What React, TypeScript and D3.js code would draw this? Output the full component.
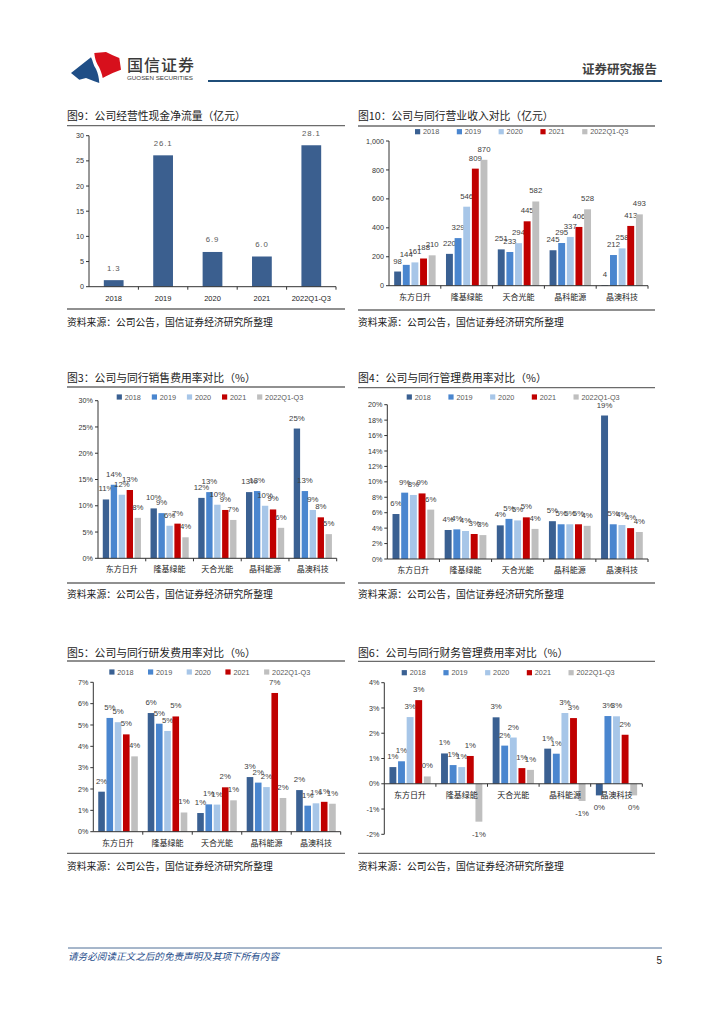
import React from "react";
import * as d3 from "d3";

const FONT_CJK = "'Noto Sans CJK SC', 'Noto Sans', sans-serif";
const FONT_NUM = "'Liberation Sans', Arial, sans-serif";

// ---------- data ----------
const companies = ["东方日升", "隆基绿能", "天合光能", "晶科能源", "晶澳科技"];
const seriesNames = ["2018", "2019", "2020", "2021", "2022Q1-Q3"];
const seriesColors = ["#3a6092", "#4a86cf", "#a7c6e8", "#c00000", "#bfbfbf"];

const cashYears = ["2018", "2019", "2020", "2021", "2022Q1-Q3"];
const cashFlow = [1.3, 26.1, 6.9, 6.0, 28.1];

// rows: companies, columns: series (2018..2022Q1-Q3)
const revenue = [
  [98, 144, 161, 188, 210],
  [220, 329, 546, 809, 870],
  [251, 233, 294, 445, 582],
  [245, 295, 337, 406, 528],
  [4, 212, 258, 413, 493],
];
const salesRate = [
  [11.2, 14.0, 12.1, 13.0, 7.7],
  [9.5, 8.6, 6.2, 6.6, 4.0],
  [11.5, 12.6, 10.2, 9.2, 7.3],
  [12.6, 12.8, 10.0, 9.3, 5.8],
  [24.7, 12.8, 9.2, 7.8, 4.6],
];
const adminRate = [
  [5.83, 8.6, 8.3, 8.5, 6.4],
  [3.76, 3.84, 3.63, 3.24, 3.1],
  [4.36, 5.2, 5.0, 5.4, 3.9],
  [4.9, 4.5, 4.5, 4.5, 4.3],
  [18.6, 4.5, 4.4, 4.0, 3.5],
];
const rdRate = [
  [1.875, 5.33, 5.13, 4.56, 3.53],
  [5.56, 5.06, 4.72, 5.4, 0.9],
  [0.875, 1.28, 1.27, 2.08, 1.47],
  [2.56, 2.3, 2.09, 6.5, 1.58],
  [1.95, 1.22, 1.33, 1.4, 1.31],
];
const financeRate = [
  [0.66, 0.89, 2.64, 3.31, 0.29],
  [1.2, 0.74, 0.66, 1.1, -1.5],
  [2.63, 1.51, 1.83, 0.62, 0.55],
  [1.39, 1.19, 2.8, 2.6, -0.68],
  [-0.46, 2.68, 2.67, 1.94, -0.46],
];

const revenueTicks = [0, 200, 400, 600, 800, 1000];
const salesTicks = [0, 5, 10, 15, 20, 25, 30];
const adminTicks = [0, 2, 4, 6, 8, 10, 12, 14, 16, 18, 20];
const rdTicks = [0, 1, 2, 3, 4, 5, 6, 7];
const financeTicks = [-2, -1, 0, 1, 2, 3, 4];
const cashTicks = [0, 5, 10, 15, 20, 25, 30];

const pct = (v: number) => {
  const r = Math.round(v);
  return (r === 0 ? 0 : r) + "%";
};
const comma = d3.format(",");

// ---------- components ----------
function Frame(props: any) {
  const { x1, x2, titleY, title, ulY, botY, srcY } = props;
  return (
    <g>
      <text x={x1} y={titleY} fontFamily={FONT_CJK} fontSize={10.8} fill="#222">
        {title}
      </text>
      <line x1={x1} x2={x2} y1={ulY} y2={ulY} stroke="#6b6b6b" strokeWidth={1.3} />
      <line x1={x1} x2={x2} y1={botY} y2={botY} stroke="#6b6b6b" strokeWidth={1.3} />
      <text x={x1} y={srcY} fontFamily={FONT_CJK} fontSize={9.8} fill="#222">
        资料来源：公司公告，国信证券经济研究所整理
      </text>
    </g>
  );
}

function Legend(props: any) {
  const { x, step, y } = props;
  return (
    <g>
      {seriesNames.map((s, i) => (
        <g key={s} transform={`translate(${x + i * step},${y})`}>
          <rect x={0} y={-2.6} width={5.2} height={5.2} fill={seriesColors[i]} />
          <text x={8} y={2.6} fontFamily={FONT_NUM} fontSize={7.3} fill="#595959">
            {s}
          </text>
        </g>
      ))}
    </g>
  );
}

function GroupChart(props: any) {
  const { data, left, right, yTop, yBot, domain, ticks, fmtTick, fmtLabel, legend } = props;
  const y = d3.scaleLinear().domain(domain).range([yBot, yTop]);
  const x0 = d3.scaleBand<string>().domain(companies).range([left, right]).paddingInner(0.2).paddingOuter(0.1);
  const x1 = d3
    .scaleBand<string>()
    .domain(seriesNames)
    .range([0, x0.bandwidth()])
    .paddingInner(0.2);
  const zeroY = y(0);
  const step = x0.step();
  return (
    <g>
      <Frame {...props} />
      <Legend {...legend} />
      {data.map((row: number[], ci: number) => (
        <g key={ci}>
          {row.map((v, si) => {
            const bx = (x0(companies[ci]) as number) + (x1(seriesNames[si]) as number);
            const top = Math.min(y(v), zeroY);
            const h = Math.abs(y(v) - zeroY);
            const ly = v >= 0 ? y(v) - 8 : y(v) + 15;
            return (
              <g key={si}>
                <rect x={bx} y={top} width={x1.bandwidth()} height={h} fill={seriesColors[si]} />
                <text
                  x={bx + x1.bandwidth() / 2}
                  y={ly}
                  textAnchor="middle"
                  fontFamily={FONT_NUM}
                  fontSize={7.8}
                  fill="#404040"
                >
                  {fmtLabel(v)}
                </text>
              </g>
            );
          })}
        </g>
      ))}
      {/* y axis */}
      <line x1={left} x2={left} y1={y(domain[0])} y2={y(domain[1])} stroke="#333" strokeWidth={1} />
      {ticks.map((t: number) => (
        <g key={t}>
          <line x1={left - 3} x2={left} y1={y(t)} y2={y(t)} stroke="#333" />
          <text x={left - 5} y={y(t) + 2.6} textAnchor="end" fontFamily={FONT_NUM} fontSize={7.2} fill="#333">
            {fmtTick(t)}
          </text>
        </g>
      ))}
      {/* x axis */}
      <line x1={left} x2={right} y1={zeroY} y2={zeroY} stroke="#333" strokeWidth={1} />
      {companies.map((c, i) => (
        <g key={c}>
          <line
            x1={left + (i + 1) * step}
            x2={left + (i + 1) * step}
            y1={zeroY}
            y2={zeroY + 3}
            stroke="#333"
          />
          <text
            x={(x0(c) as number) + x0.bandwidth() / 2}
            y={zeroY + 14}
            textAnchor="middle"
            fontFamily={FONT_CJK}
            fontSize={8}
            fill="#222"
          >
            {c}
          </text>
        </g>
      ))}
    </g>
  );
}

function CashChart() {
  const left = 89,
    right = 336,
    yTop = 135.7,
    yBot = 286.7;
  const y = d3.scaleLinear().domain([0, 30]).range([yBot, yTop]);
  const x = d3.scaleBand<string>().domain(cashYears).range([left, right]).paddingInner(0.6).paddingOuter(0.3);
  const step = x.step();
  const f = d3.format(".1f");
  return (
    <g>
      <Frame x1={67} x2={345} titleY={120} title="图9：公司经营性现金净流量（亿元）" ulY={125.7} botY={309} srcY={326} />
      {cashFlow.map((v, i) => (
        <g key={i}>
          <rect x={x(cashYears[i])} y={y(v)} width={x.bandwidth()} height={yBot - y(v)} fill="#3b5f8f" />
          <text
            x={(x(cashYears[i]) as number) + x.bandwidth() / 2}
            y={y(v) - 9.5}
            textAnchor="middle"
            fontFamily={FONT_NUM}
            fontSize={7.8}
            letterSpacing={0.9}
            fill="#595959"
          >
            {f(v)}
          </text>
        </g>
      ))}
      <line x1={left} x2={left} y1={yBot} y2={yTop} stroke="#333" />
      {cashTicks.map((t) => (
        <g key={t}>
          <line x1={left - 3} x2={left} y1={y(t)} y2={y(t)} stroke="#333" />
          <text x={left - 5} y={y(t) + 2.6} textAnchor="end" fontFamily={FONT_NUM} fontSize={7.2} fill="#333">
            {t}
          </text>
        </g>
      ))}
      <line x1={left} x2={right} y1={yBot} y2={yBot} stroke="#333" />
      {cashYears.map((c, i) => (
        <g key={c}>
          <line x1={left + (i + 1) * step} x2={left + (i + 1) * step} y1={yBot} y2={yBot + 3} stroke="#333" />
          <text
            x={(x(c) as number) + x.bandwidth() / 2}
            y={yBot + 14}
            textAnchor="middle"
            fontFamily={FONT_NUM}
            fontSize={7.5}
            fill="#222"
          >
            {c}
          </text>
        </g>
      ))}
    </g>
  );
}

function Header() {
  return (
    <g>
      <path
        d="M71,73 L91,57.3 C93,61 93,65 96,69 C98,73 99,78 99.3,83 L94.3,81.3 L86,78 L79.3,79.7 Z"
        fill="#1f4e86"
      />
      <path
        d="M94.3,53 L106,52 L112.7,55.3 L119.3,58 L121,69.7 L112.7,73 L106,76.3 L102.7,78 C102,74 100.5,70 99,67 C97,64 95,60 94.3,53 Z"
        fill="#d7101c"
      />
      <text x={127} y={71} fontFamily={FONT_CJK} fontSize={16} fontWeight={500} fill="#3a3a3a" letterSpacing={1}>
        国信证券
      </text>
      <text x={127} y={80} fontFamily={FONT_NUM} fontSize={6.2} fill="#3a3a3a" textLength={66} lengthAdjust="spacingAndGlyphs">
        GUOSEN SECURITIES
      </text>
      <line x1={208} x2={662} y1={81} y2={81} stroke="#1f4e79" strokeWidth={2.2} />
      <text x={657} y={74} textAnchor="end" fontFamily={FONT_CJK} fontSize={12.5} fontWeight={700} fill="#404040">
        证券研究报告
      </text>
    </g>
  );
}

function Footer() {
  return (
    <g>
      <line x1={68} x2={662} y1={948} y2={948} stroke="#4f6f96" strokeWidth={1} />
      <text x={68} y={960} fontFamily={FONT_CJK} fontSize={9.6} fontStyle="italic" fill="#1f4e8c">
        请务必阅读正文之后的免责声明及其项下所有内容
      </text>
      <text x={662} y={964} textAnchor="end" fontFamily={FONT_NUM} fontSize={10} fill="#222">
        5
      </text>
    </g>
  );
}

export default function App() {
  return (
    <div style={{ position: "absolute", left: 0, top: 0 }}>
      <svg width={724} height={1024} viewBox="0 0 724 1024" style={{ display: "block", background: "#fff" }}>
        <Header />
        <CashChart />
        <GroupChart
          data={revenue}
          x1={358}
          x2={655}
          titleY={120}
          title="图10：公司与同行营业收入对比（亿元）"
          ulY={126}
          botY={310}
          srcY={326}
          left={389}
          right={648}
          yTop={141}
          yBot={285.7}
          domain={[0, 1000]}
          ticks={revenueTicks}
          fmtTick={comma}
          fmtLabel={(v: number) => String(v)}
          legend={{ x: 415, step: 41.8, y: 131.7 }}
        />
        <GroupChart
          data={salesRate}
          x1={67}
          x2={345}
          titleY={382}
          title="图3：公司与同行销售费用率对比（%）"
          ulY={387}
          botY={583}
          srcY={598}
          left={98}
          right={336.7}
          yTop={400.7}
          yBot={558.3}
          domain={[0, 30]}
          ticks={salesTicks}
          fmtTick={(t: number) => t + "%"}
          fmtLabel={pct}
          legend={{ x: 116.7, step: 35.1, y: 397 }}
        />
        <GroupChart
          data={adminRate}
          x1={358}
          x2={655}
          titleY={382}
          title="图4：公司与同行管理费用率对比（%）"
          ulY={387.7}
          botY={583}
          srcY={598}
          left={387.3}
          right={648}
          yTop={404.7}
          yBot={559}
          domain={[0, 20]}
          ticks={adminTicks}
          fmtTick={(t: number) => t + "%"}
          fmtLabel={pct}
          legend={{ x: 406.7, step: 41.7, y: 397 }}
        />
        <GroupChart
          data={rdRate}
          x1={67}
          x2={345}
          titleY={657}
          title="图5：公司与同行研发费用率对比（%）"
          ulY={661}
          botY={853.3}
          srcY={870}
          left={93.3}
          right={340.7}
          yTop={682.3}
          yBot={831.7}
          domain={[0, 7]}
          ticks={rdTicks}
          fmtTick={(t: number) => t + "%"}
          fmtLabel={pct}
          legend={{ x: 109.3, step: 38.7, y: 672 }}
        />
        <GroupChart
          data={financeRate}
          x1={358}
          x2={655}
          titleY={657}
          title="图6：公司与同行财务管理费用率对比（%）"
          ulY={661.3}
          botY={853.3}
          srcY={870}
          left={384.3}
          right={642.3}
          yTop={682.7}
          yBot={834.3}
          domain={[-2, 4]}
          ticks={financeTicks}
          fmtTick={(t: number) => t + "%"}
          fmtLabel={pct}
          legend={{ x: 401.7, step: 41.7, y: 672.7 }}
        />
        <Footer />
      </svg>
    </div>
  );
}
